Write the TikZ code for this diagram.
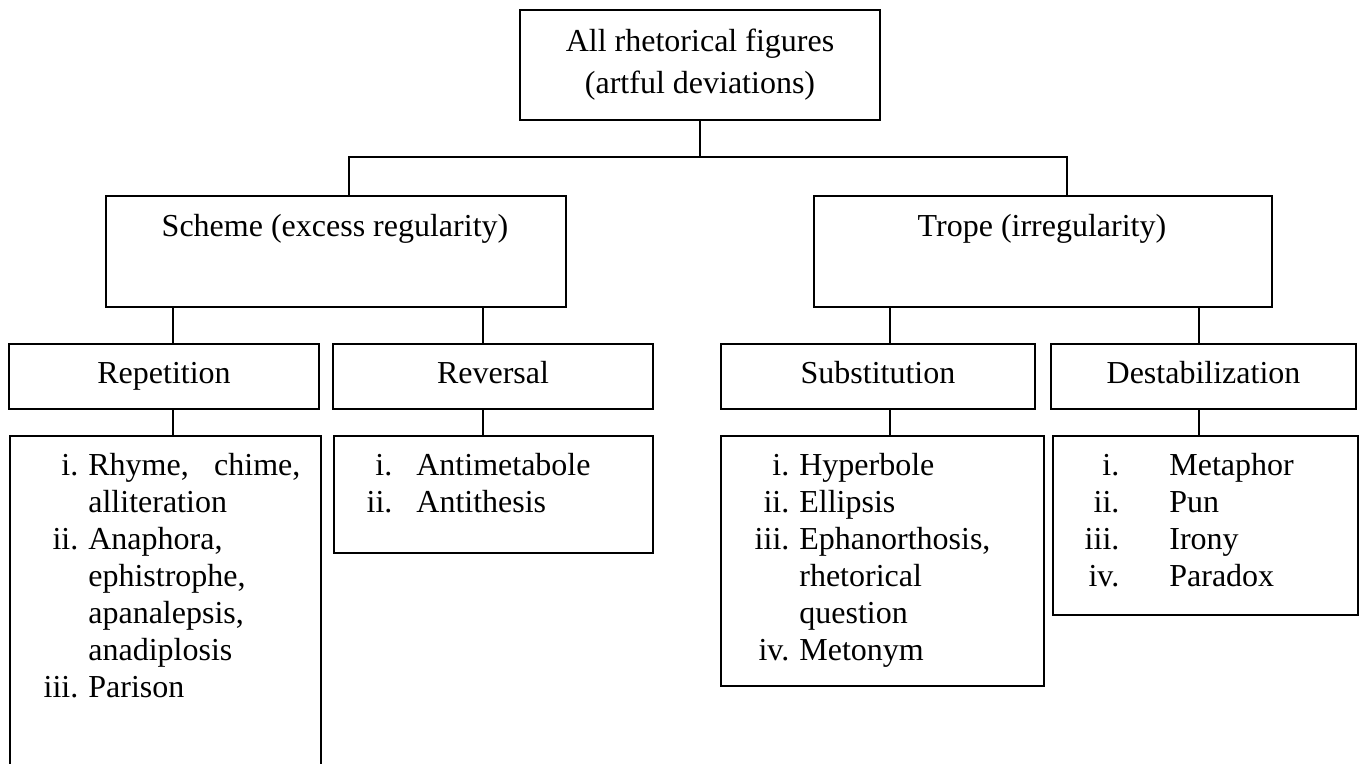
\documentclass[tikz,border=0pt]{standalone}
\usepackage{fontspec}
\setmainfont{Liberation Serif}
\begin{document}
\begin{tikzpicture}[x=0.5pt,y=-0.5pt,
  box/.style={draw, line width=1pt, inner sep=0pt, anchor=north west, font=\fontsize{16pt}{18.5pt}\selectfont},
  hbox/.style={box, text height=11pt, text depth=3.5pt},
  wire/.style={line width=0.85pt},
  txt/.style={inner sep=0pt, anchor=base, font=\fontsize{16pt}{18.5pt}\selectfont},
  lst/.style={inner sep=0pt, anchor=base west, font=\fontsize{16pt}{18.5pt}\selectfont}]
\useasboundingbox (0,0) rectangle (1359,764);
\clip (0,0) rectangle (1359,764);
\fill[white] (0,0) rectangle (1359,764);

% level 0
\node[box, minimum width=180pt, minimum height=55pt, align=center,
      font=\fontsize{16pt}{21pt}\selectfont] (top) at (519,9)
      {All rhetorical figures\\(artful deviations)};

% level 1
\node[box, minimum width=230pt, minimum height=55.5pt] (scheme) at (105,195) {};
\node[txt] (schemet) at (335,237) {Scheme (excess regularity)};
\node[box, minimum width=229pt, minimum height=55.5pt] (trope) at (813,195) {};
\node[txt] (tropet) at (1042,237) {Trope (irregularity)};

% level 2
\node[hbox, minimum width=155pt, minimum height=32.5pt] (rep) at (8,343) {Repetition};
\node[hbox, minimum width=160pt, minimum height=32.5pt] (rev) at (332,343) {Reversal};
\node[hbox, minimum width=157pt, minimum height=32.5pt] (sub) at (720,343) {Substitution};
\node[hbox, minimum width=152.5pt, minimum height=32.5pt] (des) at (1050,343) {Destabilization};

% level 3 boxes
\node[box, minimum width=155.5pt, minimum height=172.5pt] (replist) at (9,435) {};
\node[box, minimum width=159.5pt, minimum height=58.5pt] (revlist) at (333,435) {};
\node[box, minimum width=161.5pt, minimum height=125pt] (sublist) at (720,435) {};
\node[box, minimum width=152.5pt, minimum height=89.5pt] (deslist) at (1052,435) {};

% level 3 texts
\node[lst] (replt) at (43.3,475) {\begin{tabular}[t]{@{}r@{\hspace{5pt}}l@{}}
i. & \makebox[106pt][s]{Rhyme, chime,}\\
   & alliteration\\
ii. & Anaphora,\\
   & ephistrophe,\\
   & apanalepsis,\\
   & anadiplosis\\
iii. & Parison
\end{tabular}};
\node[lst] (revlt) at (366.2,475) {\begin{tabular}[t]{@{}r@{\hspace{12pt}}l@{}}
i. & Antimetabole\\
ii. & Antithesis
\end{tabular}};
\node[lst] (sublt) at (754.3,475) {\begin{tabular}[t]{@{}r@{\hspace{5pt}}l@{}}
i. & Hyperbole\\
ii. & Ellipsis\\
iii. & Ephanorthosis,\\
   & rhetorical\\
   & question\\
iv. & Metonym
\end{tabular}};
\node[lst] (deslt) at (1084.3,475) {\begin{tabular}[t]{@{}r@{\hspace{25pt}}l@{}}
i. & Metaphor\\
ii. & Pun\\
iii. & Irony\\
iv. & Paradox
\end{tabular}};

% connectors
\coordinate (busL) at (349,157);
\coordinate (busR) at (1067,157);
\coordinate (cA) at (173,0);
\coordinate (cB) at (483,0);
\coordinate (cC) at (890,0);
\coordinate (cD) at (1199,0);
\draw[wire] (top.south) -- (top.south |- busL);
\draw[wire] (scheme.north -| busL) -- (busL) -- (busR) -- (trope.north -| busR);
\draw[wire] (scheme.south -| cA) -- (rep.north -| cA);
\draw[wire] (scheme.south -| cB) -- (rev.north -| cB);
\draw[wire] (trope.south -| cC) -- (sub.north -| cC);
\draw[wire] (trope.south -| cD) -- (des.north -| cD);
\draw[wire] (rep.south -| cA) -- (replist.north -| cA);
\draw[wire] (rev.south -| cB) -- (revlist.north -| cB);
\draw[wire] (sub.south -| cC) -- (sublist.north -| cC);
\draw[wire] (des.south -| cD) -- (deslist.north -| cD);
\end{tikzpicture}
\end{document}
